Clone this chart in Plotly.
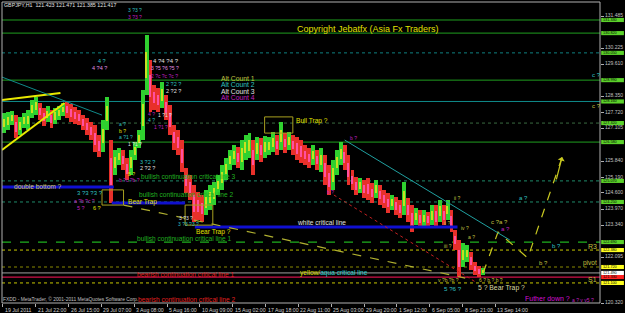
import numpy as np
import plotly.graph_objects as go

# ---------------- data ----------------
date_labels = ["19 Jul 2011", "21 Jul 22:00", "26 Jul 15:00", "29 Jul 07:00", "3 Aug 08:00",
               "5 Aug 16:00", "10 Aug 09:00", "15 Aug 02:00", "17 Aug 18:00", "22 Aug 11:00",
               "25 Aug 03:00", "29 Aug 20:00", "1 Sep 12:00", "6 Sep 05:00", "8 Sep 21:00",
               "13 Sep 14:00"]
BARS_PER_LABEL = 64          # H1 bars between date labels
HOURS_PER_SAMPLE = 7.72      # price sampled roughly every 7.7 H1 bars

price_high = [127.71, 127.75, 127.79, 127.63, 127.56, 127.71, 127.83, 128.22, 128.33, 128.10,
              127.91, 127.98, 127.83, 127.91, 127.98, 128.10, 128.14, 128.06, 127.95, 127.83,
              127.63, 127.52, 127.36, 127.24, 126.86, 127.44, 128.33, 126.66, 126.27, 126.35,
              126.27, 125.96, 126.27, 126.58, 127.05, 128.61, 130.75, 129.77, 128.80, 128.68,
              128.92, 128.41, 128.02, 127.24, 127.05, 126.66, 125.57, 125.30, 124.91, 124.64,
              124.52, 124.72, 124.91, 125.03, 125.30, 125.69, 125.96, 126.27, 126.47, 126.39,
              126.66, 126.86, 126.93, 126.66, 126.78, 126.74, 126.82, 126.78, 126.97, 126.86,
              127.36, 126.93, 126.97, 126.86, 126.78, 126.66, 126.47, 126.35, 126.47, 126.27,
              126.35, 126.08, 125.69, 125.88, 126.27, 126.58, 126.47, 126.08, 125.49, 125.22,
              125.18, 125.11, 125.18, 124.99, 125.11, 124.91, 124.72, 124.60, 124.52, 124.44,
              124.33, 125.03, 124.41, 124.13, 124.02, 123.94, 123.94, 123.86, 124.13, 124.13,
              124.33, 124.13, 124.33, 123.94, 123.16, 122.77, 122.65, 122.58, 122.30, 121.92,
              121.76, 121.68]
price_low = [126.93, 127.05, 127.24, 126.74, 126.86, 127.13, 127.05, 127.52, 127.63, 127.44,
             127.21, 127.36, 127.13, 127.28, 127.44, 127.60, 127.52, 127.36, 127.28, 127.24,
             127.05, 126.86, 126.66, 126.19, 126.00, 126.19, 127.05, 124.21, 125.30, 125.69,
             125.49, 125.11, 125.30, 125.88, 126.35, 126.66, 128.41, 127.75, 127.83, 127.75,
             127.91, 127.44, 126.86, 126.27, 126.08, 125.42, 124.60, 124.33, 123.47, 123.55,
             123.47, 123.74, 123.94, 124.13, 124.52, 124.72, 125.11, 125.49, 125.69, 125.57,
             125.49, 125.88, 125.96, 125.30, 125.88, 125.81, 125.96, 126.08, 126.19, 126.08,
             126.27, 126.16, 126.27, 126.08, 125.88, 125.77, 125.69, 125.57, 125.69, 125.49,
             125.42, 124.91, 124.52, 124.72, 125.30, 125.69, 125.49, 124.91, 124.72, 124.52,
             124.60, 124.41, 124.33, 124.21, 124.41, 124.13, 124.02, 123.82, 123.94, 123.74,
             123.63, 123.74, 123.47, 123.08, 123.35, 123.24, 123.28, 123.24, 123.35, 123.24,
             123.47, 123.35, 123.55, 123.08, 122.38, 121.33, 121.72, 121.92, 121.60, 121.41,
             121.33, 121.41]

# visible right-axis labels (the others are hidden behind the price tags)
right_tick_labels = ["131.485", "130.225", "129.610", "128.350", "127.720", "127.105",
                     "125.840", "125.190", "124.600", "123.970", "123.340", "122.095", "120.320"]

# horizontal levels: (price, colour, dash, width, tag colour)
levels = [
    (131.33, "#1f9f1f", "solid", 1, "#5bd12a"),
    (130.82, "#1f9f1f", "solid", 1, "#5bd12a"),
    (130.05, "#0f8080", "dot", 1, "#5bd12a"),
    (128.99, "#1f9f1f", "solid", 1, "#5bd12a"),
    (128.16, "#0f8a8a", "solid", 1, "#5bd12a"),
    (127.32, "#3a6a40", "dot", 1, "#5bd12a"),
    (126.58, "#1f9f1f", "solid", 1, "#5bd12a"),
    (125.07, "#1f8a6a", "dot", 1, "#5bd12a"),
    (124.25, "#1f8a6a", "dot", 1, "#5bd12a"),
    (122.69, "#1fb01f", "dash", 1.3, "#5bd12a"),
    (122.38, "#c8c800", "dot", 1, "#ffff20"),
    (121.72, "#8a8a00", "dot", 1, "#ffff20"),
    (121.49, "#a0a0a0", "solid", 1, "#ffffff"),
    (121.33, "#d0104a", "solid", 1.3, "#ff2020"),
    (121.10, "#c8c800", "dot", 1, "#ffff20"),
]

# thick blue critical lines: (x0 hour, x1 hour, price)
blue_lines = [(-2, 216, 124.83), (212, 355, 124.21), (374, 886, 123.28)]

# trend lines: (x0, p0, x1, p1, colour, dash, width)
trend_lines = [
    (-2, 126.27, 120, 128.10, "#e8e800", "solid", 2),
    (-2, 128.22, 112, 128.49, "#e8e800", "solid", 2),
    (-2, 129.11, 193, 127.63, "#108a8a", "solid", 1),
    (666, 126.66, 988, 122.77, "#20a0a0", "solid", 1),
    (645, 124.52, 921, 121.14, "#c02020", "dot", 1),
    (235, 124.13, 901, 121.29, "#b0b030", "dash", 1.2),
]
projection_x = [936, 965, 1023, 1090]
projection_p = [121.49, 123.08, 122.07, 126.00]

# boxes: (x0, x1, p0, p1)
boxes = [(193, 235, 124.13, 124.72), (355, 409, 123.35, 124.13), (510, 565, 126.93, 127.56)]

# ---------------- figure ----------------
n = len(price_high)
xs = np.arange(1, n + 1) * HOURS_PER_SAMPLE - 5.8
hi = np.array(price_high)
lo = np.array(price_low)
mid = (hi + lo) / 2
colors = ["#2fd12f" if i == 0 or mid[i] >= mid[i - 1] else "#e8302a" for i in range(n)]

fig = go.Figure()

for (p, c, d, w, tc) in levels:
    fig.add_shape(type="line", xref="paper", x0=0, x1=1, yref="y", y0=p, y1=p,
                  line=dict(color=c, dash=d, width=w), layer="below")

for (x0, x1, p) in blue_lines:
    fig.add_shape(type="line", x0=x0, x1=x1, y0=p, y1=p, line=dict(color="#1010d0", width=3))

fig.add_trace(go.Bar(x=xs, base=lo, y=hi - lo, width=7.7, marker=dict(color=colors, line=dict(width=0)),
                     showlegend=False, hoverinfo="skip"))
# inner bodies for texture
body_lo = mid - (hi - lo) * 0.22
fig.add_trace(go.Bar(x=xs, base=body_lo, y=(hi - lo) * 0.44, width=2.2,
                     marker=dict(color=["#c8e020" if c.startswith("#2f") else "#ff50a0" for c in colors],
                                 line=dict(width=0)),
                     showlegend=False, hoverinfo="skip"))

for (x0, p0, x1, p1, c, d, w) in trend_lines:
    fig.add_shape(type="line", x0=x0, x1=x1, y0=p0, y1=p1, line=dict(color=c, dash=d, width=w))

fig.add_trace(go.Scatter(x=projection_x, y=projection_p, mode="lines",
                         line=dict(color="#c8c820", dash="dash", width=1.2), showlegend=False,
                         hoverinfo="skip"))
fig.add_annotation(x=projection_x[-1], y=projection_p[-1], ax=projection_x[-2] + 55, ay=projection_p[-2] + 3.0,
                   xref="x", yref="y", axref="x", ayref="y", showarrow=True, arrowhead=1,
                   arrowcolor="#c8c820", arrowwidth=1.2, text="")

for (x0, x1, p0, p1) in boxes:
    fig.add_shape(type="rect", x0=x0, x1=x1, y0=p0, y1=p1, line=dict(color="#a8a020", width=1))

# frame
fig.add_shape(type="rect", xref="paper", yref="paper", x0=0, x1=1, y0=0, y1=1,
              line=dict(color="#b0b0b0", width=1))

# right price tags
for (p, c, d, w, tc) in levels:
    fig.add_shape(type="rect", xref="paper", yref="y", x0=1.002, x1=1.04, y0=p - 0.08, y1=p + 0.08,
                  fillcolor=tc, line=dict(width=0))
    fig.add_annotation(xref="paper", yref="y", x=1.003, y=p, text=f"{p:.3f}", showarrow=False,
                       xanchor="left", yanchor="middle", borderpad=0,
                       font=dict(size=3.8, color="#000000", family="Liberation Sans"))

# date labels
for i, lab in enumerate(date_labels):
    fig.add_annotation(x=i * BARS_PER_LABEL, y=-0.006, xref="x", yref="paper", text=lab,
                       showarrow=False, xanchor="left", yanchor="top",
                       font=dict(size=5.2, color="#d0d0d0", family="Liberation Sans"))

W, H = 604.0, 301.0


def ann(text, px, py, color, size=6.6, anchor="left"):
    fig.add_annotation(x=(px - 2) / W, y=(303 - py) / H, xref="paper", yref="paper", text=text,
                       showarrow=False, xanchor=anchor, yanchor="middle",
                       font=dict(size=size, color=color, family="Liberation Sans"))


YEL = "#e0e000"
TEAL = "#30c0c0"
MAG = "#c020c0"
WHT = "#e0e0e0"
GRN = "#20b020"
RED = "#e02020"
OLV = "#c0c040"

ann("GBPJPY,H1  121.423 121.471 121.385 121.417", 2, 5, WHT, 5.3)
ann("Copyright Jebatfx (Asia Fx Traders)", 298, 29, YEL, 9)
ann("Alt Count 1", 221, 78, OLV, 6.8)
ann("Alt Count 2", 221, 84.5, TEAL, 6.8)
ann("Alt Count 3", 221, 91, WHT, 6.8)
ann("Alt Count 4", 221, 97.5, MAG, 6.8)
ann("Bull Trap ?", 297, 121, YEL, 6.6)
ann("double bottom ?", 12, 186, "#d8d060", 6.6)
ann("Bear Trap", 127, 202, YEL, 6.6)
ann("Bear Trap ?", 196, 232, YEL, 6.6)
ann("bullish continuation critical line 3", 140, 177, GRN, 6.6)
ann("bullish continuation critical line 2", 138, 194.5, GRN, 6.6)
ann("white critical line", 298, 222, WHT, 6.6)
ann("bullish continuation critical line 1", 136, 239, GRN, 6.6)
ann("<span style='color:#e0e000'>yellow/</span><span style='color:#30d0d0'>aqua critical line</span>",
    301, 273, YEL, 6.6)
ann("bearish continuation critical line 1", 136, 274, RED, 6.6)
ann("bearish continuation critical line 2", 137, 299, RED, 6.6)
ann("FXDD - MetaTrader, © 2001-2011 MetaQuotes Software Corp.", 1, 299, "#c0c0c0", 4.9)
ann("Futher down ?", 528, 298, "#d010d0", 7)
ann("a ? v v5 ?", 576, 300, MAG, 5)
ann("5 ? Bear Trap ?", 481, 288, "#d8d8a0", 6.8)
ann("5 ?6 ?", 446, 288, TEAL, 6.2)
ann("v ?b ?b ?", 440, 280, OLV, 5)
ann("6 ? b ? b ?", 482, 280, OLV, 5)
ann("a ?", 522, 198, TEAL, 6)
ann("b ?", 555, 246, TEAL, 6)
ann("b ?", 542, 263, OLV, 6)
ann("c ?a ?", 494, 222, OLV, 6)
ann("a ?", 504, 229, MAG, 6)
ann("c ?", 596, 75, TEAL, 6)
ann("c ?", 596, 106, OLV, 6)
ann("R3", 605, 246, OLV, 7, "right")
ann("pivot", 605, 263, OLV, 6.5, "right")
ann("S1", 605, 279, OLV, 7, "right")
ann("3 ?3 ?", 127, 10, TEAL, 5)
ann("3 ?3 ?", 127, 17, MAG, 5)
ann("4 ?4 ?4 ?", 152, 61, WHT, 6)
ann("3 ?5 ?6 ?5 ?", 150, 68, "#e090e0", 5)
ann("2 ?c ?c ?c ?", 150, 76, MAG, 5)
ann("2 ?2 ?", 166, 84, TEAL, 5.5)
ann("2 ?2 ?", 166, 91, WHT, 5.5)
ann("4 ?", 97, 61, TEAL, 5.5)
ann("4 ?4 ?", 91, 68, "#e090e0", 5.5)
ann("4 ?", 147, 114, MAG, 5)
ann("4 ?", 147, 120, TEAL, 5)
ann("1 ?1 ?", 158, 115, WHT, 5)
ann("1 ?1 ?", 154, 127, MAG, 5)
ann("a ?", 118, 124, TEAL, 5)
ann("b ?", 118, 131, YEL, 5)
ann("a ?1 ?", 118, 137, TEAL, 5)
ann("1 ?1 ?", 127, 144, WHT, 5)
ann("3 ?2 ?", 139, 162, TEAL, 5.5)
ann("2 ?2 ?", 139, 168, WHT, 5.5)
ann("5 ?", 127, 174, YEL, 5)
ann("b ?c ?b ?", 118, 180, MAG, 5)
ann("3 ?3 ?3 ?", 76, 193, TEAL, 6)
ann("a ?b ?c ?", 73, 201, MAG, 5)
ann("5 ?", 76, 208, MAG, 5.5)
ann("6 ?", 92, 208, YEL, 5.5)
ann("3 ?3 ?", 179, 218, WHT, 5)
ann("3 ?3 ?3 ?", 178, 224, TEAL, 5)
ann("b ?", 328, 192, MAG, 5)
ann("b ?", 351, 138, MAG, 5)
ann("ii ?", 457, 198, OLV, 5)
ann("ii ?", 446, 223, OLV, 5)
ann("iv ?", 464, 228, OLV, 5)
ann("a ?", 471, 237, OLV, 5)
ann("iii ?", 446, 246, OLV, 5)

fig.update_layout(
    width=625, height=313,
    margin=dict(l=2, r=19, t=2, b=10),
    paper_bgcolor="#000000", plot_bgcolor="#000000",
    bargap=0, barmode="overlay",
    showlegend=False,
    xaxis=dict(range=[-1.93, 1163.8], showgrid=False, zeroline=False,
               tickvals=[i * BARS_PER_LABEL for i in range(len(date_labels))],
               showticklabels=False, ticks="outside", ticklen=3, tickcolor="#b0b0b0"),
    yaxis=dict(range=[120.32, 132.03], side="right", showgrid=False, zeroline=False,
               tickvals=[float(t) for t in right_tick_labels], ticktext=right_tick_labels,
               ticks="outside", ticklen=3, tickcolor="#b0b0b0", ticklabelshift=-1,
               tickfont=dict(size=5, color="#c0c0c0", family="Liberation Sans")),
)

fig.write_html("out.html")
